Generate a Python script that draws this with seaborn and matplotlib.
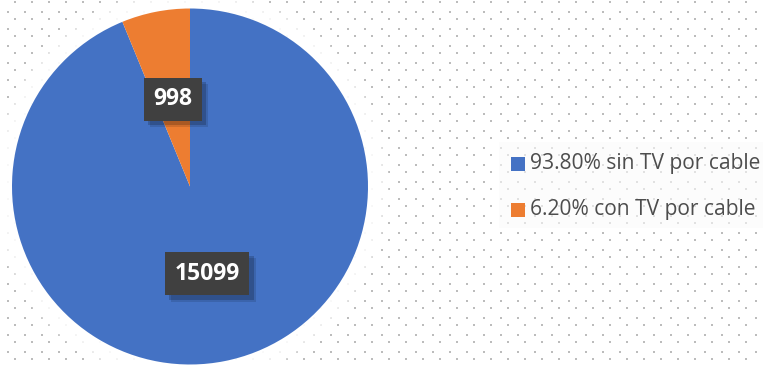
import numpy as np
import matplotlib
matplotlib.use("Agg")
import matplotlib.pyplot as plt
import matplotlib.patheffects as pe
from matplotlib.patches import Rectangle, Circle
import seaborn as sns

# Households by cable TV subscription
categories = ["sin TV por cable", "con TV por cable"]
counts = [15099, 998]
colors = ["#4472C4", "#ED7D31"]

sns.set_theme(style="white")
plt.rcParams["font.family"] = ["Open Sans", "DejaVu Sans"]
palette = sns.color_palette(colors)

W, H = 763, 367
fig = plt.figure(figsize=(W / 100, H / 100), dpi=100)
fig.patch.set_facecolor("white")

# Background layer in pixel coordinates: dotted texture and legend panel
bg = fig.add_axes([0, 0, 1, 1], zorder=0)
bg.set_xlim(0, W)
bg.set_ylim(H, 0)
bg.axis("off")
xa = np.arange(15, W, 17)
ya = np.arange(2, H, 17)
xb = np.arange(8, W, 17)
yb = np.arange(12, H, 17)
XA, YA = np.meshgrid(xa, ya)
XB, YB = np.meshgrid(xb, yb)
dx = np.concatenate([XA.ravel(), XB.ravel()])
dy = np.concatenate([YA.ravel(), YB.ravel()])
dot = [(-1, -1.5), (1, -1.5), (1, 1.5), (-1, 1.5)]
bg.scatter(dx, dy, s=3, marker=dot, color="#bcbcbc", linewidths=0, zorder=1)
bg.add_patch(Rectangle((499, 142), W - 499, 86, facecolor="#fafafa",
                       edgecolor="none", alpha=0.6, zorder=2))

# Pie
cx, cy, R = 190, 186.5, 178
ax = fig.add_axes([(cx - R) / W, (H - cy - R) / H, 2 * R / W, 2 * R / H], zorder=2)
ax.patch.set_alpha(0)

# soft white glow around the disc
for i in range(16, 0, -1):
    ax.add_patch(Circle((0, 0), 1 + i * 0.0075, facecolor="white",
                        edgecolor="none", alpha=0.2, clip_on=False, zorder=0))

wedges, _ = ax.pie(counts, colors=palette, startangle=90, counterclock=False,
                   wedgeprops=dict(linewidth=0))
for w in wedges:
    w.set_zorder(1)
ax.set_xlim(-1, 1)
ax.set_ylim(-1, 1)
ax.set_aspect("equal")
ax.axis("off")

# Value labels in dark boxes at half radius
shadow = [pe.SimplePatchShadow(offset=(3, -3), shadow_rgbFace="#000000", alpha=0.18),
          pe.SimplePatchShadow(offset=(4.5, -4.5), shadow_rgbFace="#000000", alpha=0.12),
          pe.Normal()]
for w, v in zip(wedges, counts):
    theta = np.deg2rad((w.theta1 + w.theta2) / 2)
    t = ax.text(0.5 * np.cos(theta), 0.5 * np.sin(theta), f"{v}",
                ha="center", va="center", color="white", fontsize=16.5,
                fontweight="bold", zorder=5,
                bbox=dict(boxstyle="square,pad=0.42", facecolor="#404040",
                          edgecolor="none"))
    t.get_bbox_patch().set_path_effects(shadow)

# Legend
total = sum(counts)
legend_y = [164, 210]
for cat, v, col, y in zip(categories, counts, palette, legend_y):
    bg.add_patch(Rectangle((511, y - 7), 14, 14, facecolor=col,
                           edgecolor="none", zorder=3))
    bg.text(530, y, f"{v / total * 100:.2f}% {cat}", ha="left", va="center",
            fontsize=15.1, color="#4d4d4d", zorder=3)

fig.savefig("out.png", dpi=100, facecolor="white")
